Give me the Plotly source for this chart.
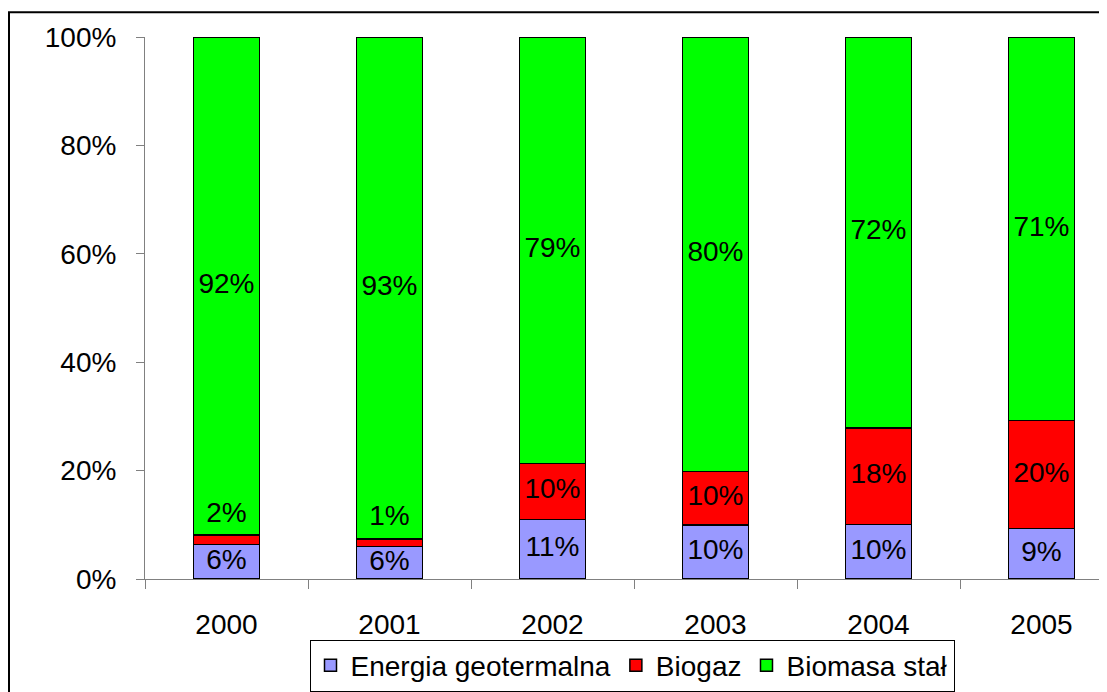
import plotly.graph_objects as go

years = ["2000", "2001", "2002", "2003", "2004", "2005"]
geo = [6.4, 6.0, 11.0, 10.0, 10.1, 9.3]
biogaz = [1.7, 1.4, 10.3, 9.8, 17.8, 19.9]
biomasa = [91.9, 92.6, 78.7, 80.2, 72.1, 70.8]
y_ticks = [0, 20, 40, 60, 80, 100]

series = [
    ("Energia geotermalna", geo, "#9999FF"),
    ("Biogaz", biogaz, "#FF0000"),
    ("Biomasa stał", biomasa, "#00FF00"),
]

FONT = "Arial, Liberation Sans, sans-serif"
FS = 28
# page has an 8px body margin, so the figure sits at (8, 8)
W, H = 1099, 684
L, R, T, B = 137, 0, 29, 110

fig = go.Figure()
for name, vals, col in series:
    fig.add_trace(go.Bar(
        x=years, y=vals, name=name, width=0.405,
        marker=dict(color=col, line=dict(color="black", width=1.5)),
    ))

# data labels, centred in each segment
base = [0.0] * len(years)
lab_x, lab_y, lab_t = [], [], []
for name, vals, col in series:
    for i, v in enumerate(vals):
        mid = base[i] + v / 2
        if v < 3:
            mid = base[i] + v + 3.8  # tiny slices: label sits just above
        lab_x.append(years[i])
        lab_y.append(mid)
        lab_t.append(f"{round(v):d}%")
        base[i] += v

fig.add_trace(go.Scatter(
    x=lab_x, y=lab_y, text=lab_t, mode="text", showlegend=False,
    textposition="middle center", hoverinfo="skip",
    textfont=dict(size=FS, color="black", family=FONT),
))

plot_w = W - L - R
plot_h = H - T - B
cat_px = 163
fig.update_layout(
    barmode="stack",
    width=W, height=H,
    margin=dict(l=L, r=R, t=T, b=B, pad=0),
    paper_bgcolor="white", plot_bgcolor="white",
    font=dict(family=FONT, size=FS, color="black"),
    showlegend=True,
    legend=dict(
        orientation="h", traceorder="normal",
        x=(624 - L) / plot_w, xanchor="center",
        y=(H - B - 635) / plot_h, yanchor="top",
        bordercolor="black", borderwidth=1,
        font=dict(size=FS),
    ),
    xaxis=dict(
        type="category", range=[-0.5, -0.5 + plot_w / cat_px],
        showline=True, linecolor="#808080", linewidth=1,
        ticks="outside", tickson="boundaries", ticklen=9, tickcolor="#808080",
        ticklabelstandoff=20, showgrid=False, zeroline=False,
    ),
    yaxis=dict(
        range=[0, 100], tickmode="array", tickvals=y_ticks,
        ticktext=[f"{t}%" for t in y_ticks],
        showline=True, linecolor="#808080", linewidth=1,
        ticks="outside", ticklen=8, tickcolor="#808080",
        ticklabelstandoff=14, showgrid=False, zeroline=False,
    ),
    shapes=[dict(
        type="rect", xref="paper", yref="paper",
        x0=(1 - L) / plot_w, x1=1.2, y0=-0.5, y1=(H - B - 4) / plot_h,
        line=dict(color="black", width=2), fillcolor="rgba(0,0,0,0)",
    )],
)

fig.write_html("out.html")
